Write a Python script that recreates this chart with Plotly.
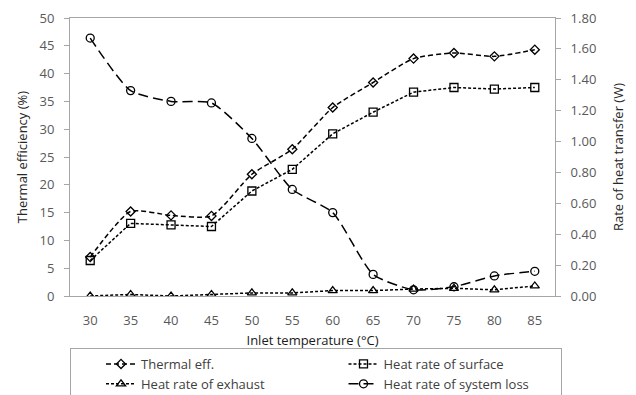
import plotly.graph_objects as go

temps = ["30", "35", "40", "45", "50", "55", "60", "65", "70", "75", "80", "85"]
thermal_eff = [7.0, 15.2, 14.5, 14.4, 21.9, 26.4, 33.9, 38.4, 42.7, 43.7, 43.1, 44.3]
heat_surface = [0.23, 0.47, 0.46, 0.45, 0.68, 0.82, 1.05, 1.19, 1.32, 1.35, 1.34, 1.35]
heat_exhaust = [0.00, 0.01, 0.00, 0.01, 0.02, 0.02, 0.035, 0.035, 0.045, 0.05, 0.04, 0.065]
heat_loss = [1.67, 1.33, 1.26, 1.25, 1.02, 0.69, 0.54, 0.14, 0.04, 0.06, 0.13, 0.16]

FONT = "Open Sans"
GRAY = "#a6a6a6"
TICK = "#595959"

fig = go.Figure()
fig.add_trace(go.Scatter(
    x=temps, y=thermal_eff, name="Thermal eff.", mode="lines+markers",
    line=dict(color="black", width=1.5, dash="5px,3px", shape="spline", smoothing=0.6),
    marker=dict(symbol="diamond-open", size=7, color="black", line=dict(width=1.3)),
))
fig.add_trace(go.Scatter(
    x=temps, y=heat_surface, name="Heat rate of surface", mode="lines+markers", yaxis="y2",
    line=dict(color="black", width=1.5, dash="3px,2px"),
    marker=dict(symbol="square-open", size=8, color="black", line=dict(width=1.3)),
))
fig.add_trace(go.Scatter(
    x=temps, y=heat_exhaust, name="Heat rate of exhaust", mode="lines+markers", yaxis="y2",
    line=dict(color="black", width=1.5, dash="3px,2px"),
    marker=dict(symbol="triangle-up-open", size=8, color="black", line=dict(width=1.3)),
))
fig.add_trace(go.Scatter(
    x=temps, y=heat_loss, name="Heat rate of system loss", mode="lines+markers", yaxis="y2",
    line=dict(color="black", width=1.5, dash="10px,5px", shape="spline", smoothing=0.6),
    marker=dict(symbol="circle-open", size=8, color="black", line=dict(width=1.3)),
))

fig.update_layout(
    width=636, height=395,
    margin=dict(l=70, r=81, t=18, b=99, autoexpand=False),
    paper_bgcolor="white", plot_bgcolor="white",
    font=dict(family=FONT, size=12, color=TICK),
    showlegend=True,
    xaxis=dict(
        type="category", range=[-0.5, 11.5],
        showline=True, linecolor=GRAY, linewidth=1, mirror=True,
        ticks="", showgrid=False, zeroline=False,
        tickfont=dict(size=13, color=TICK), ticklabelstandoff=12,
        title=dict(text="Inlet temperature (°C)", font=dict(size=13, color="#1a1a1a"), standoff=8),
    ),
    yaxis=dict(
        range=[0, 50], dtick=5, showline=True, linecolor=GRAY, linewidth=1,
        ticks="outside", ticklen=5, tickcolor=GRAY, showgrid=False, zeroline=False,
        tickfont=dict(size=13, color=TICK), ticklabelstandoff=7,
        title=dict(text="Thermal efficiency (%)", font=dict(size=13, color="#262626"), standoff=8),
    ),
    yaxis2=dict(
        overlaying="y", side="right", range=[0, 1.8], dtick=0.2, tickformat=".2f",
        showline=True, linecolor=GRAY, linewidth=1,
        ticks="outside", ticklen=5, tickcolor=GRAY, showgrid=False, zeroline=False,
        tickfont=dict(size=13, color=TICK), ticklabelstandoff=7,
        title=dict(text="Rate of heat transfer (W)", font=dict(size=13, color="#262626"), standoff=18),
    ),
    legend=dict(
        orientation="h", x=0, xanchor="left", y=-0.187, yanchor="top",
        bordercolor=GRAY, borderwidth=1, bgcolor="white",
        entrywidth=0.5, entrywidthmode="fraction", indentation=30,
        font=dict(family=FONT, size=13, color="#404040"),
        traceorder="normal",
    ),
)

fig.write_html(
    "out.html",
    config={"displayModeBar": False},
    post_script="document.body.style.margin='0';",
)
